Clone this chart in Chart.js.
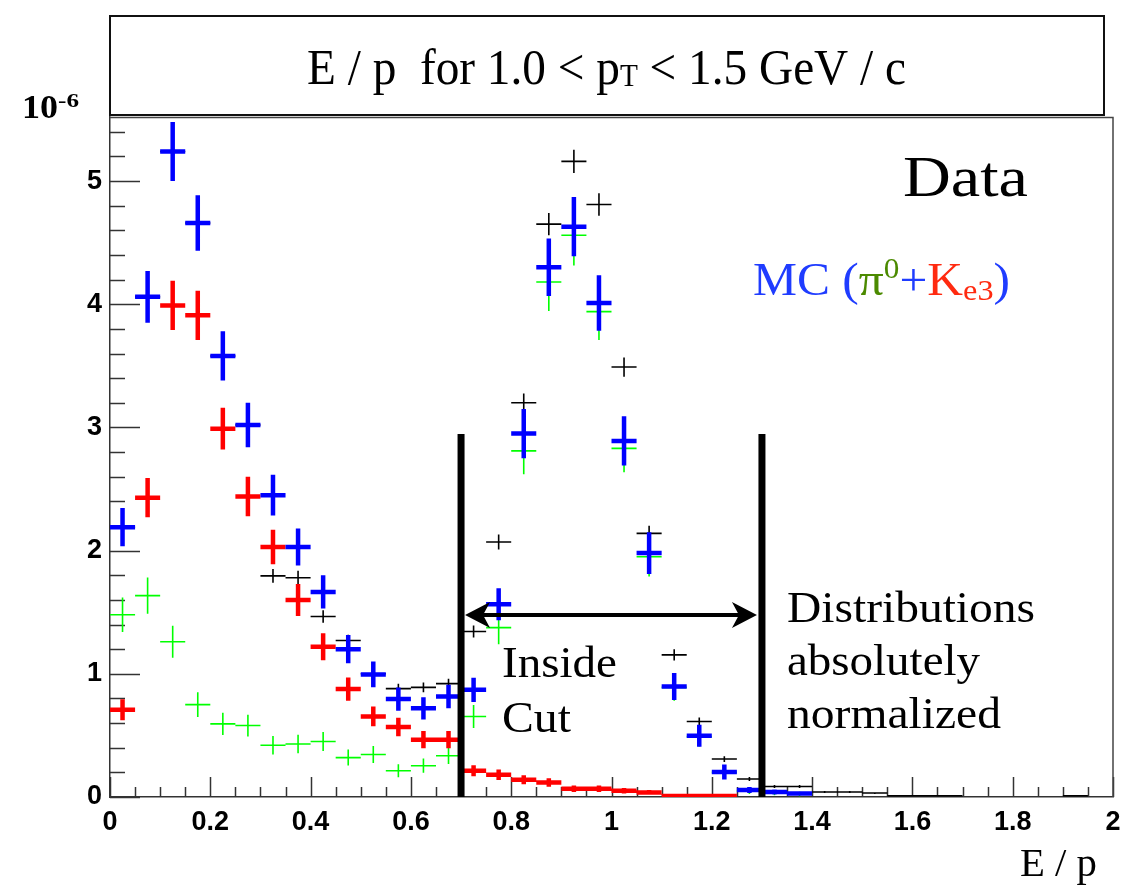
<!DOCTYPE html>
<html><head><meta charset="utf-8">
<script src="https://cdn.jsdelivr.net/npm/chart.js@4.4.1/dist/chart.umd.min.js"></script>
<style>html,body{margin:0;padding:0;background:#fff;}#wrap{width:1121px;height:886px;}</style>
</head><body><div id="wrap"><canvas id="c" width="1121" height="886"></canvas></div>
<script>
// ---- data (units of 10^-6) ----
const binCenters = [0.025,0.075,0.125,0.175,0.225,0.275,0.325,0.375,0.425,0.475,0.525,0.575,0.625,0.675,0.725,0.775,0.825,0.875,0.925,0.975,1.025,1.075,1.125,1.175,1.225,1.275,1.325,1.375,1.425,1.475,1.525,1.575,1.625,1.675,1.725,1.775,1.825,1.875,1.925,1.975];

const dataValues = [2.19,4.06,5.24,4.66,3.58,3.02,1.795,1.78,1.465,1.27,1.0,0.88,0.89,0.92,1.343,2.07,3.20,4.65,5.16,4.81,3.49,2.14,1.154,0.613,0.308,0.146,0.085,0.085,0.04,0.04,0.032,0.01,0.01,0.01,null,null,null,null,0.01,null];
const dataErrors = [0.062,0.085,0.096,0.09,0.08,0.073,0.056,0.056,0.051,0.047,0.042,0.04,0.04,0.04,0.049,0.06,0.075,0.09,0.095,0.092,0.078,0.061,0.045,0.033,0.023,0.016,0.012,0.012,0.008,0.008,0.007,0.004,0.004,0.004,null,null,null,null,0.004,null];

const mcTotalValues = [2.19,4.06,5.24,4.66,3.58,3.02,2.45,2.03,1.665,1.20,0.995,0.795,0.72,0.816,0.87,1.565,2.95,4.30,4.63,4.01,2.89,1.98,0.897,0.497,0.203,0.057,0.04,0.028,null,null,null,null,null,null,null,null,null,null,null,null];
const mcTotalErrors = [0.155,0.21,0.24,0.225,0.2,0.18,0.165,0.15,0.135,0.115,0.105,0.094,0.09,0.095,0.098,0.13,0.2,0.234,0.24,0.225,0.2,0.17,0.11,0.09,0.06,0.025,0.02,0.018,null,null,null,null,null,null,null,null,null,null,null,null];

const pi0Values = [1.48,1.635,1.26,0.75,0.594,0.58,0.42,0.43,0.45,0.32,0.345,0.213,0.254,0.335,0.654,1.375,2.81,4.18,4.56,3.94,2.83,1.95,0.89,0.49,0.2,0.05,0.035,0.025,null,null,null,null,null,null,null,null,null,null,null,null];
const pi0Errors = [0.14,0.147,0.13,0.1,0.09,0.088,0.075,0.075,0.077,0.065,0.068,0.053,0.058,0.067,0.093,0.135,0.19,0.235,0.245,0.23,0.193,0.16,0.108,0.08,0.05,0.026,0.02,0.018,null,null,null,null,null,null,null,null,null,null,null,null];

const ke3Values = [0.708,2.43,3.99,3.91,2.99,2.44,2.03,1.60,1.22,0.876,0.654,0.568,0.465,0.465,0.213,0.181,0.14,0.118,0.067,0.067,0.051,0.037,0.008,0.008,0.008,null,null,null,null,null,null,null,null,null,null,null,null,null,null,null];
const ke3Errors = [0.085,0.16,0.2,0.2,0.17,0.16,0.14,0.13,0.11,0.094,0.08,0.075,0.07,0.07,0.045,0.042,0.037,0.034,0.026,0.026,0.023,0.019,0.008,0.008,0.008,null,null,null,null,null,null,null,null,null,null,null,null,null,null,null];

const xTickLabels = ['0','0.2','0.4','0.6','0.8','1','1.2','1.4','1.6','1.8','2'];
const yTickLabels = ['0','1','2','3','4','5'];

const cutLow = 0.7, cutHigh = 1.3, cutLineTop = 2.946, arrowLevel = 1.478;
const halfBin = 0.025;

// ---- build cross (error bar) polylines from the arrays ----
function crossData(values, errors){
  const pts = [];
  binCenters.forEach((c,i)=>{
    const v = values[i]; if (v === null) return;
    const e = errors[i];
    pts.push({x:c-halfBin,y:v},{x:c+halfBin,y:v},{x:c,y:null},{x:c,y:v-e},{x:c,y:v+e},{x:c,y:null});
  });
  return pts;
}
function ds(label, pts, color, width){
  return {label, data: pts, showLine: true, spanGaps: false, borderColor: color, backgroundColor: color,
    borderWidth: width, borderCapStyle: 'butt', pointRadius: 0, pointHoverRadius: 0, tension: 0, fill: false};
}

const serif = '"Liberation Serif", "Times New Roman", serif';

function drawRuns(ctx, runs, x, baseline, targetWidth){
  ctx.save();
  let total = 0;
  runs.forEach(r=>{ ctx.font = r.font; r.w = ctx.measureText(r.t).width; total += r.w; });
  const s = targetWidth ? targetWidth/total : 1;
  ctx.translate(x, baseline); ctx.scale(s,1);
  ctx.textAlign='left'; ctx.textBaseline='alphabetic';
  let cx = 0;
  runs.forEach(r=>{ ctx.font = r.font; ctx.fillStyle = r.color || '#000'; ctx.fillText(r.t, cx, r.dy||0); cx += r.w; });
  ctx.restore();
}

const decor = {
  id: 'decor',
  beforeDatasetsDraw(chart){
    const {ctx, chartArea: a, scales:{x:xs, y:ys}} = chart;
    ctx.save();
    ctx.strokeStyle = '#333'; ctx.lineWidth = 1.5;
    for (let k=0;k<=27;k++){
      const v = k*0.2; const y = Math.round(ys.getPixelForValue(v))+0.5;
      const len = (k%5===0)?30:15;
      ctx.beginPath(); ctx.moveTo(a.left, y); ctx.lineTo(a.left+len, y); ctx.stroke();
    }
    for (let k=0;k<=40;k++){
      const v = k*0.05; const x = Math.round(xs.getPixelForValue(v))+0.5;
      const len = (k%4===0)?20:10;
      ctx.beginPath(); ctx.moveTo(x, a.bottom); ctx.lineTo(x, a.bottom-len); ctx.stroke();
    }
    ctx.strokeStyle = '#444'; ctx.lineWidth = 1.5;
    ctx.beginPath(); ctx.moveTo(a.left, a.top+0.5); ctx.lineTo(a.right, a.top+0.5); ctx.lineTo(a.right, a.bottom); ctx.stroke();
    ctx.restore();
  },
  afterDraw(chart){
    const {ctx, scales:{x:xs, y:ys}} = chart;
    ctx.save();
    ctx.strokeStyle = '#111'; ctx.lineWidth = 2;
    ctx.strokeRect(110, 16, 994, 99);
    drawRuns(ctx, [
      {t:'E / p  for 1.0 < p', font:'50px '+serif},
      {t:'T', font:'31px '+serif, dy:2},
      {t:' < 1.5 GeV / c', font:'50px '+serif}
    ], 307, 84, 599);
    drawRuns(ctx, [{t:'10', font:'bold 33px '+serif}], 22, 118, 36);
    drawRuns(ctx, [{t:'-6', font:'bold 19px '+serif}], 58, 107, 21);
    drawRuns(ctx, [{t:'Data', font:'56px '+serif}], 903, 196, 125);
    const blue='#1f3cff', green='#4b8a00', red='#ff2a10';
    drawRuns(ctx, [
      {t:'MC (', font:'46px '+serif, color:blue},
      {t:'\u03c0', font:'46px '+serif, color:green},
      {t:'0', font:'29px '+serif, color:green, dy:-17},
      {t:'+', font:'46px '+serif, color:blue},
      {t:'K', font:'46px '+serif, color:red},
      {t:'e3', font:'30px '+serif, color:red, dy:5},
      {t:')', font:'46px '+serif, color:blue}
    ], 753, 295, 257);
    drawRuns(ctx, [{t:'Inside', font:'44px '+serif}], 502, 677, 115);
    drawRuns(ctx, [{t:'Cut', font:'44px '+serif}], 502, 732, 69);
    drawRuns(ctx, [{t:'Distributions', font:'44px '+serif}], 787, 622, 248);
    drawRuns(ctx, [{t:'absolutely', font:'44px '+serif}], 787, 675, 193);
    drawRuns(ctx, [{t:'normalized', font:'44px '+serif}], 787, 728, 214);
    drawRuns(ctx, [{t:'E / p', font:'41px '+serif}], 1020, 876, 77);
    const y = ys.getPixelForValue(arrowLevel);
    const xl = xs.getPixelForValue(cutLow)+4, xr = xs.getPixelForValue(cutHigh)-5;
    ctx.strokeStyle='#000'; ctx.fillStyle='#000'; ctx.lineWidth=4;
    ctx.beginPath(); ctx.moveTo(xl+15,y); ctx.lineTo(xr-15,y); ctx.stroke();
    ctx.beginPath(); ctx.moveTo(xl,y); ctx.lineTo(xl+25,y-13); ctx.lineTo(xl+18,y); ctx.lineTo(xl+25,y+13); ctx.closePath(); ctx.fill();
    ctx.beginPath(); ctx.moveTo(xr,y); ctx.lineTo(xr-25,y-13); ctx.lineTo(xr-18,y); ctx.lineTo(xr-25,y+13); ctx.closePath(); ctx.fill();
    ctx.restore();
  }
};

const cutLines = [{x:cutLow,y:0},{x:cutLow,y:cutLineTop},{x:cutLow,y:null},{x:cutHigh,y:0},{x:cutHigh,y:cutLineTop}];

new Chart(document.getElementById('c'), {
  type: 'scatter',
  data: { datasets: [
    ds('cuts', cutLines, '#000', 7),
    ds('MC (pi0+Ke3)', crossData(mcTotalValues, mcTotalErrors), '#0000ff', 4.5),
    ds('Ke3', crossData(ke3Values, ke3Errors), '#ff0000', 4.5),
    ds('pi0', crossData(pi0Values, pi0Errors), '#00ff00', 1.6),
    ds('Data', crossData(dataValues, dataErrors), '#000000', 1.6)
  ]},
  options: {
    responsive: false, animation: false, devicePixelRatio: 1,
    layout: {padding: {top:117, right:8, left:0, bottom:0}},
    plugins: {legend:{display:false}, tooltip:{enabled:false}, title:{display:false}},
    events: [],
    scales: {
      x: {type:'linear', min:0, max:2,
          grid:{display:false, drawTicks:false},
          border:{display:true, color:'#333', width:1.5},
          ticks:{stepSize:0.2, autoSkip:false, maxRotation:0, padding:9, color:'#000',
                 font:{family:'"Liberation Sans", Arial, sans-serif', size:27, weight:'bold'},
                 callback:(v,i)=>xTickLabels[i]},
          afterFit:(s)=>{ s.height = 89; s.paddingLeft = 0; s.paddingRight = 0; }},
      y: {type:'linear', min:0, max:5.52,
          grid:{display:false, drawTicks:false},
          border:{display:true, color:'#333', width:1.5},
          ticks:{stepSize:1, includeBounds:false, padding:8, color:'#000',
                 font:{family:'"Liberation Sans", Arial, sans-serif', size:27, weight:'bold'},
                 callback:(v,i)=>yTickLabels[i]},
          afterFit:(s)=>{ s.width = 110; s.paddingTop = 0; s.paddingBottom = 0; }}
    }
  },
  plugins: [decor]
});
</script></body></html>
